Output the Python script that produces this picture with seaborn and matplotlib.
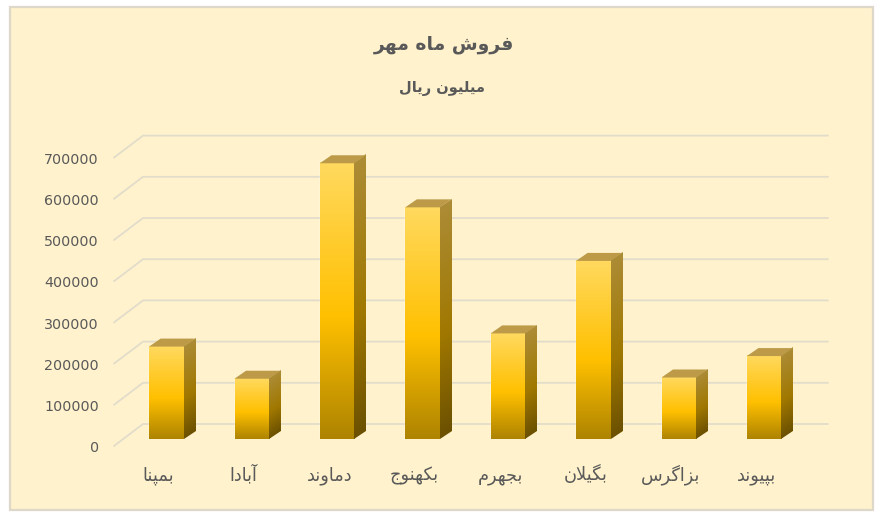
import numpy as np
import seaborn as sns
import matplotlib.pyplot as plt
from matplotlib.colors import LinearSegmentedColormap
from matplotlib.patches import Polygon, Rectangle
from matplotlib.transforms import Affine2D, IdentityTransform

# =============== DATA ===============
CATEGORIES = ["بمپنا", "آبادا", "دماوند", "بکهنوج", "بجهرم", "بگیلان", "بزاگرس", "بپیوند"]
SALES = [225000, 147000, 670000, 563000, 257000, 433000, 150000, 202000]
TICKS = [0, 100000, 200000, 300000, 400000, 500000, 600000, 700000]
TITLE = "فروش ماه مهر"
SUBTITLE = "میلیون ریال"

# =============== STYLE ===============
W, H = 879, 515
BG = "#FFF2CC"
BORDER = "#DDD8C9"
GRID = "#E2DCCB"
TEXT = "#595959"
DEPTH_X, DEPTH_Y = 11.5, 8.0       # 3D depth of the bars, pixels
TOP_FACE = "#BC9A48"

front_cmap = LinearSegmentedColormap.from_list(
    "front", [(0, "#AD8300"), (0.44, "#FFC000"), (1, "#FFD95F")], N=1024)
side_cmap = LinearSegmentedColormap.from_list(
    "side", [(0, "#6B5000"), (0.44, "#A07800"), (1, "#AC8C36")], N=1024)


# matplotlib does no Arabic shaping, so pick the presentation forms by hand
FORMS = {
    "ا": (0xFE8D, 0xFE8E), "آ": (0xFE81, 0xFE82), "د": (0xFEA9, 0xFEAA),
    "ر": (0xFEAD, 0xFEAE), "ز": (0xFEAF, 0xFEB0), "و": (0xFEED, 0xFEEE),
    "ب": (0xFE8F, 0xFE90, 0xFE91, 0xFE92), "پ": (0xFB56, 0xFB57, 0xFB58, 0xFB59),
    "ج": (0xFE9D, 0xFE9E, 0xFE9F, 0xFEA0), "س": (0xFEB1, 0xFEB2, 0xFEB3, 0xFEB4),
    "ش": (0xFEB5, 0xFEB6, 0xFEB7, 0xFEB8), "ف": (0xFED1, 0xFED2, 0xFED3, 0xFED4),
    "ک": (0xFB8E, 0xFB8F, 0xFB90, 0xFB91), "گ": (0xFB92, 0xFB93, 0xFB94, 0xFB95),
    "ل": (0xFEDD, 0xFEDE, 0xFEDF, 0xFEE0), "م": (0xFEE1, 0xFEE2, 0xFEE3, 0xFEE4),
    "ن": (0xFEE5, 0xFEE6, 0xFEE7, 0xFEE8), "ه": (0xFEE9, 0xFEEA, 0xFEEB, 0xFEEC),
    "ی": (0xFBFC, 0xFBFD, 0xFBFE, 0xFBFF),
}


def shape(text):
    text = text.replace("لا", "\uE000")     # lam-alef ligature
    out = []
    for i, ch in enumerate(text):
        prev = text[i - 1] if i > 0 else " "
        nxt = text[i + 1] if i + 1 < len(text) else " "
        joins_prev = prev in FORMS and len(FORMS[prev]) == 4
        joins_next = nxt in FORMS or nxt == "\uE000"
        if ch == "\uE000":
            out.append(chr(0xFEFC if joins_prev else 0xFEFB))
        elif ch not in FORMS:
            out.append(ch)
        elif len(FORMS[ch]) == 2:
            out.append(chr(FORMS[ch][1 if joins_prev else 0]))
        elif joins_prev and joins_next:
            out.append(chr(FORMS[ch][3]))
        elif joins_prev:
            out.append(chr(FORMS[ch][1]))
        elif joins_next:
            out.append(chr(FORMS[ch][2]))
        else:
            out.append(chr(FORMS[ch][0]))
    return "".join(reversed(out))


# =============== FIGURE ===============
sns.set_theme(style="white")
plt.rcParams["font.family"] = ["DejaVu Sans"]

fig = plt.figure(figsize=(W / 100, H / 100), dpi=100, facecolor="white")
fig.patches.append(Rectangle((9.5, H - 510), 863, 503, transform=IdentityTransform(),
                             facecolor=BG, edgecolor=BORDER, linewidth=1.6, zorder=-1))

base_px = 439.3
ax = fig.add_axes([123.7 / W, (H - base_px) / H, 683.2 / W, 296.64 / H])
ax.patch.set_alpha(0)

positions = np.arange(len(CATEGORIES))
sns.barplot(x=positions, y=SALES, color="#FFC000", width=0.405, native_scale=True,
            ax=ax, zorder=3)
ax.set_xlim(-0.5, 7.5)
ax.set_ylim(0, 720000)
ax.set_xticks(positions, [shape(c) for c in CATEGORIES])
ax.set_yticks(TICKS, [str(t) for t in TICKS])
sns.despine(ax=ax, left=True, bottom=True)
ax.set_xlabel("")
ax.set_ylabel("")
ax.tick_params(axis="y", length=0, pad=18, labelsize=10.3, labelcolor=TEXT)
ax.tick_params(axis="x", length=0, pad=29.5, labelsize=12.8, labelcolor=TEXT)

# tick labels sit on the front edge of the floor, not on the bar plane
for lab in ax.get_yticklabels():
    lab.set_transform(lab.get_transform() + Affine2D().translate(0, -7.4))
for lab in ax.get_xticklabels():
    lab.set_transform(lab.get_transform() + Affine2D().translate(-8, 0))
    lab.set_verticalalignment("baseline")

# back wall and side wall grid lines
px = IdentityTransform()
x_left = ax.transData.transform((-0.5, 0))[0]
x_right = ax.transData.transform((7.5, 0))[0]
for t in TICKS:
    y = ax.transData.transform((0, t))[1]
    ax.plot([x_left - 9.7, x_left + 19.3, x_right + 21.1],
            [y - 6.7, y + 15.3, y + 15.3], transform=px, color=GRID,
            linewidth=1.3, clip_on=False, zorder=1, solid_joinstyle="miter")

# bar faces: gradient images mapped onto each bar drawn by seaborn
gradient = np.linspace(0, 1, 512)[:, None].repeat(2, axis=1)
for bar in list(ax.patches):
    (x0, y0), (x1, y1) = ax.transData.transform(
        [(bar.get_x(), 0), (bar.get_x() + bar.get_width(), bar.get_height())])

    front = Affine2D.from_values(x1 - x0, 0, 0, y1 - y0, x0, y0)
    side = Affine2D.from_values(DEPTH_X, DEPTH_Y, 0, y1 - y0, x1, y0)
    for face, cmap in ((front, front_cmap), (side, side_cmap)):
        ax.imshow(gradient, extent=(0, 1, 0, 1), origin="lower", aspect="auto",
                  cmap=cmap, vmin=0, vmax=1, interpolation="bilinear",
                  transform=face, zorder=4, clip_on=False)
    ax.add_patch(Polygon([(x0, y1), (x1, y1), (x1 + DEPTH_X, y1 + DEPTH_Y),
                          (x0 + DEPTH_X, y1 + DEPTH_Y)], closed=True, transform=px,
                         facecolor=TOP_FACE, edgecolor="none", zorder=4, clip_on=False))

ax.set_xlim(-0.5, 7.5)
ax.set_ylim(0, 720000)

fig.text(444 / W, 1 - 45 / H, shape(TITLE), ha="center", va="center",
         fontsize=13.5, fontweight="bold", color=TEXT)
fig.text(442 / W, 1 - 88 / H, shape(SUBTITLE), ha="center", va="center",
         fontsize=10.5, fontweight="bold", color=TEXT)

fig.savefig("out.png", dpi=100, facecolor="white")
